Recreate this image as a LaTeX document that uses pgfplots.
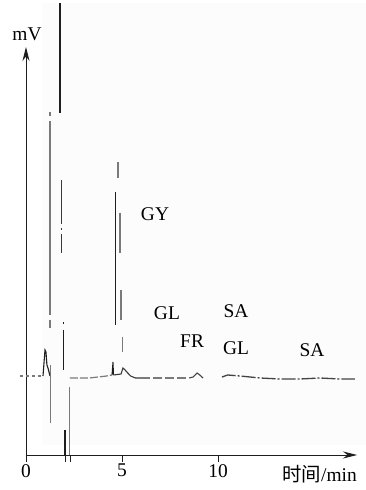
\documentclass[border=0pt]{standalone}
\usepackage{pgfplots}
\pgfplotsset{compat=1.18}
\usepackage{fontspec}
\setmainfont{Liberation Serif}
\newfontfamily\cjk{Noto Sans CJK SC}
\usetikzlibrary{arrows.meta}
\definecolor{tr}{HTML}{7A7A7A}
\definecolor{dk}{HTML}{1E1E1E}
\begin{document}
\fontsize{19.5}{22}\selectfont
\begin{tikzpicture}
\useasboundingbox (-26bp,-35bp) rectangle (340bp,455bp);
\fill[black!1.2] (16bp,10bp) rectangle (340bp,452bp);
\begin{axis}[
  x=19.2bp, y=1bp,
  xmin=0, xmax=17.24, ymin=-78, ymax=330,
  axis lines=left,
  axis line style={line width=0.9bp, draw=dk, -{Stealth[length=14bp,width=7bp]}},
  clip=false,
  xtick={0,5,10}, xticklabels={0,5,10},
  extra x ticks={2.07,2.29}, extra x tick labels={},
  ytick=\empty,
  tick align=outside,
  major tick length=7bp,
  tick style={line width=0.9bp, draw=dk},
  /pgf/number format/assume math mode=true,
  xticklabel style={font=\fontsize{19.5}{22}\selectfont, inner sep=2bp},
]
% baseline start and small wiggle
\addplot[tr, line width=1.2bp, dashed] coordinates {(-0.31,1) (0.885,1)};
\addplot[dk, line width=1.1bp] coordinates {(0.885,1) (0.99,27) (1.04,25) (1.09,12) (1.146,9) (1.25,1)};
% tall first peak (gray, broken near its ends)
\addplot[tr, line width=1.6bp] coordinates {(1.25,265) (1.25,261)};
\addplot[tr, line width=1.6bp] coordinates {(1.25,256) (1.25,62)};
\addplot[tr, line width=1.6bp] coordinates {(1.25,57) (1.25,49)};
\addplot[tr, line width=1.6bp] coordinates {(1.28,12) (1.28,-46)};
% very tall black line
\addplot[dk, line width=1.5bp] coordinates {(1.77,374) (1.77,264)};
% second group
\addplot[dk!70!tr, line width=1.4bp, dash pattern=on 44bp off 4bp on 2bp off 4bp] coordinates {(1.85,197) (1.85,124)};
\addplot[dk, line width=1.0bp, dash pattern=on 2bp off 6bp on 40bp] coordinates {(1.93,55) (1.93,5)};
% negative peaks
\addplot[dk, line width=1.3bp] coordinates {(2.03,-53) (2.03,-78)};
\addplot[tr, line width=1.8bp] coordinates {(2.27,-10) (2.27,-78)};
% baseline between
\addplot[tr, line width=1.2bp, dash pattern=on 8bp off 2bp] coordinates {(2.29,-1) (3.3,-1) (4.2,1) (4.48,2)};
\addplot[dk, line width=1.0bp] coordinates {(4.48,2) (4.53,15) (4.56,2)};
% GY peak
\addplot[dk, line width=1.1bp] coordinates {(4.67,185) (4.67,52)};
\addplot[tr, line width=1.5bp] coordinates {(4.79,215) (4.79,199)};
\addplot[tr, line width=1.8bp] coordinates {(4.90,164) (4.90,124)};
\addplot[tr, line width=1.8bp] coordinates {(4.95,87) (4.95,57)};
\addplot[tr, line width=1.8bp] coordinates {(5.03,40) (5.03,25)};
\addplot[dk!70!tr, line width=1.1bp] coordinates {(4.56,2) (4.95,3) (5.05,9) (5.16,7) (5.3,4) (5.45,1) (5.7,-1) (6.0,-1)};
% baseline to FR
\addplot[tr, line width=1.3bp, dash pattern=on 9bp off 3bp] coordinates {(6.0,-1) (7.4,-1) (8.5,-1)};
\addplot[dk!60!tr, line width=1.1bp] coordinates {(8.5,-1) (8.70,0) (8.91,4) (9.05,2) (9.22,-1)};
% rest of baseline
\addplot[dk!60!tr, line width=1.3bp, dash pattern=on 14bp off 2bp on 2bp off 2bp] coordinates {(10.21,0) (10.5,2) (11.15,1) (12.19,-1) (13.23,-2) (14.27,-2) (15.31,-1) (16.35,-2) (17.13,-2)};
% labels
\node at (axis cs:6.72,163) {GY};
\node at (axis cs:7.34,64) {GL};
\node at (axis cs:8.65,36) {FR};
\node at (axis cs:10.94,66) {SA};
\node at (axis cs:10.94,29) {GL};
\node at (axis cs:14.9,27) {SA};
\node at (axis cs:0.05,343) {mV};
\node[anchor=base east, inner sep=0pt] at (axis cs:17.24,-104) {{\cjk 时间}/min};
\end{axis}
\end{tikzpicture}
\end{document}
